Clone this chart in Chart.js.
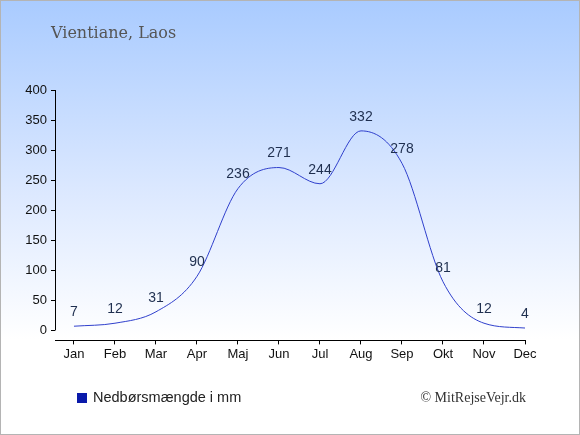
<!DOCTYPE html>
<html>
<head>
<meta charset="utf-8">
<script src="https://cdn.jsdelivr.net/npm/chart.js@4/dist/chart.umd.min.js"></script>
<style>
html,body{margin:0;padding:0;background:#fff;}
#wrap{width:580px;height:435px;position:relative;}
canvas{display:block;}
</style>
</head>
<body>
<div id="wrap"><canvas id="c" width="580" height="435"></canvas></div>
<script>
const months = ["Jan","Feb","Mar","Apr","Maj","Jun","Jul","Aug","Sep","Okt","Nov","Dec"];
const rainfall = [7, 12, 31, 90, 236, 271, 244, 332, 278, 81, 12, 4];
const yTicks = [0, 50, 100, 150, 200, 250, 300, 350, 400];
const chartTitle = "Vientiane, Laos";
const seriesLabel = "Nedbørsmængde i mm";
const credit = "© MitRejseVejr.dk";

const bgPlugin = {
  id: 'bg',
  beforeDraw(chart) {
    const ctx = chart.ctx, w = chart.width, h = chart.height;
    const g = ctx.createLinearGradient(0, 0, 0, h);
    g.addColorStop(0, '#a9cbff');
    g.addColorStop(0.45, '#dde9ff');
    g.addColorStop(0.78, '#ffffff');
    g.addColorStop(1, '#ffffff');
    ctx.save();
    ctx.fillStyle = g;
    ctx.fillRect(0, 0, w, h);
    ctx.strokeStyle = '#b4b4b4';
    ctx.lineWidth = 1;
    ctx.strokeRect(0.5, 0.5, w - 1, h - 1);
    ctx.restore();
  },
  afterDraw(chart) {
    const ctx = chart.ctx;
    const y = chart.scales.y;
    ctx.save();
    ctx.strokeStyle = '#000';
    ctx.lineWidth = 1;
    ctx.beginPath();
    const ax = Math.round(chart.chartArea.left) + 0.5;
    ctx.moveTo(ax, y.getPixelForValue(400));
    ctx.lineTo(ax, y.getPixelForValue(0));
    ctx.stroke();
    ctx.fillStyle = '#555555';
    ctx.font = '16px "DejaVu Serif", "Liberation Serif", serif';
    ctx.textBaseline = 'alphabetic';
    ctx.textAlign = 'left';
    ctx.fillText(chartTitle, 51, 38);
    const meta = chart.getDatasetMeta(0);
    ctx.fillStyle = '#1f2f4f';
    ctx.font = '14px "Liberation Sans", Arial, sans-serif';
    ctx.textAlign = 'center';
    ctx.textBaseline = 'middle';
    meta.data.forEach((pt, i) => {
      ctx.fillText(String(rainfall[i]), pt.x, pt.y - 14);
    });
    const ds = chart.data.datasets[0];
    ctx.fillStyle = '#0a1aaa';
    ctx.fillRect(77, 393, 10, 10);
    ctx.fillStyle = '#222222';
    ctx.textAlign = 'left';
    ctx.font = '14.5px "Liberation Sans", Arial, sans-serif';
    ctx.fillText(ds.label, 93, 398);
    ctx.fillStyle = '#333333';
    ctx.font = '14px "Liberation Serif", "DejaVu Serif", serif';
    ctx.textAlign = 'right';
    ctx.fillText(credit, 526, 398);
    ctx.restore();
  }
};

new Chart(document.getElementById('c'), {
  type: 'line',
  data: {
    labels: months,
    datasets: [{
      label: seriesLabel,
      data: rainfall.map((v, i) => ({x: i, y: v})),
      borderColor: '#3040cc',
      backgroundColor: '#0a1aaa',
      borderWidth: 1,
      pointRadius: 0,
      cubicInterpolationMode: 'monotone',
      fill: false
    }]
  },
  options: {
    responsive: false,
    animation: false,
    layout: { padding: { left: 0, right: 55, top: 90, bottom: 71 } },
    plugins: { legend: { display: false }, title: { display: false }, tooltip: { enabled: false } },
    scales: {
      x: {
        type: 'linear',
        min: -0.463,
        max: 11,
        afterBuildTicks(s) { s.ticks = months.map((m, i) => ({value: i})); },
        ticks: {
          autoSkip: false,
          maxRotation: 0,
          color: '#111',
          font: { family: '"Liberation Sans", Arial, sans-serif', size: 13 },
          padding: 2,
          callback: (v) => months[v]
        },
        grid: { drawOnChartArea: false, drawTicks: true, tickLength: 4, color: '#000', offset: false },
        border: { display: true, color: '#000', width: 1 }
      },
      y: {
        min: -16.6,
        max: 400,
        afterBuildTicks(s) { s.ticks = yTicks.map(v => ({value: v})); },
        afterFit(s) { s.width = 55; },
        ticks: {
          color: '#111',
          font: { family: '"Liberation Sans", Arial, sans-serif', size: 13 },
          padding: 4
        },
        grid: { drawOnChartArea: false, drawTicks: true, tickLength: 4, color: '#000' },
        border: { display: false }
      }
    }
  },
  plugins: [bgPlugin]
});
</script>
</body>
</html>
